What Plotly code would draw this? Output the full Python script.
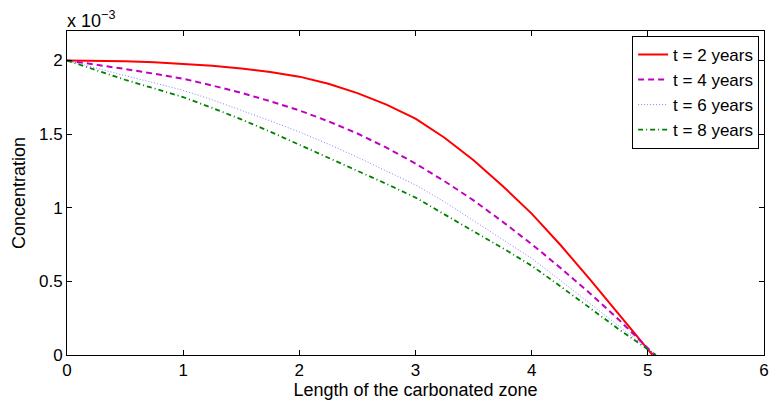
import plotly.graph_objects as go

# Length of the carbonated zone
x_common = [0, 0.25, 0.5, 0.75, 1, 1.25, 1.5, 1.75, 2, 2.25, 2.5, 2.75,
            3, 3.25, 3.5, 3.75, 4, 4.25, 4.5, 4.75]
x_t2 = x_common + [5.04]
x_t4 = x_common + [5.06]
x_t6 = x_common + [5.07]
x_t8 = x_common + [5.07]

# Concentration (x 10^-3)
c_t2 = [2.0, 1.998, 1.994, 1.987, 1.978, 1.964, 1.946, 1.922, 1.89, 1.842,
        1.778, 1.700, 1.605, 1.475, 1.322, 1.148, 0.96, 0.745, 0.515, 0.275, 0.0]
c_t4 = [2.0, 1.972, 1.942, 1.91, 1.876, 1.830, 1.78, 1.723, 1.661, 1.587,
        1.504, 1.408, 1.30, 1.18, 1.05, 0.905, 0.753, 0.59, 0.42, 0.24, 0.0]
c_t6 = [2.0, 1.947, 1.897, 1.848, 1.797, 1.733, 1.663, 1.590, 1.514, 1.432,
        1.343, 1.250, 1.155, 1.04, 0.91, 0.785, 0.656, 0.505, 0.35, 0.195, 0.0]
c_t8 = [2.0, 1.933, 1.869, 1.810, 1.751, 1.678, 1.600, 1.516, 1.428, 1.342,
        1.252, 1.162, 1.069, 0.957, 0.84, 0.726, 0.606, 0.465, 0.318, 0.175, 0.0]

names = ["t = 2 years", "t = 4 years", "t = 6 years", "t = 8 years"]
x_ticks = [0, 1, 2, 3, 4, 5, 6]
y_ticks = [0, 0.5, 1, 1.5, 2]
y_ticklabels = ["0", "0.5", "1", "1.5", "2"]

FONT = "Liberation Sans, Arial, Helvetica, sans-serif"

fig = go.Figure()
fig.add_trace(go.Scatter(x=x_t2, y=c_t2, mode="lines", name=names[0],
                         line=dict(color="#ff0000", width=2, dash="solid")))
fig.add_trace(go.Scatter(x=x_t4, y=c_t4, mode="lines", name=names[1],
                         line=dict(color="#c000c0", width=2, dash="6px,4px")))
fig.add_trace(go.Scatter(x=x_t6, y=c_t6, mode="lines", name=names[2],
                         line=dict(color="#7f7fff", width=1, dash="1px,2px")))
fig.add_trace(go.Scatter(x=x_t8, y=c_t8, mode="lines", name=names[3],
                         line=dict(color="#008000", width=1.8, dash="5px,3px,1px,3px")))

axis_common = dict(
    showline=True, linecolor="black", linewidth=1, mirror="ticks",
    ticks="inside", ticklen=5, tickcolor="black", tickwidth=1,
    showgrid=False, zeroline=False, ticklabeloverflow="allow",
    tickfont=dict(family=FONT, size=17, color="black"),
)

fig.update_layout(
    width=770, height=400,
    margin=dict(l=67, r=1, t=31, b=45),
    paper_bgcolor="white", plot_bgcolor="white",
    font=dict(family=FONT, size=18, color="black"),
    xaxis=dict(range=[0, 6], tickvals=x_ticks, ticktext=[str(v) for v in x_ticks],
               title=dict(text="Length of the carbonated zone", standoff=0,
                          font=dict(family=FONT, size=18)),
               **axis_common),
    yaxis=dict(range=[0, 2.2], tickvals=y_ticks, ticktext=y_ticklabels,
               title=dict(text="Concentration", standoff=8,
                          font=dict(family=FONT, size=18)),
               **axis_common),
    legend=dict(x=0.993, y=0.985, xanchor="right", yanchor="top",
                bgcolor="white", bordercolor="black", borderwidth=1,
                font=dict(family=FONT, size=17), tracegroupgap=0,
                itemwidth=30),
    showlegend=True,
    annotations=[dict(text="x 10<sup>−3</sup>", xref="paper", yref="paper",
                      x=0, y=1, xanchor="left", yanchor="bottom", showarrow=False,
                      font=dict(family=FONT, size=18), yshift=-2, xshift=-2)],
)

fig.write_html("out.html")
